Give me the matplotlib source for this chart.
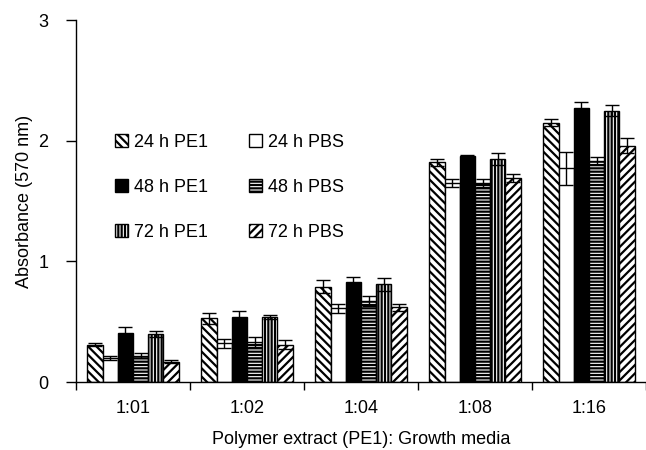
import numpy as np
import matplotlib as mpl
mpl.use('Agg')
import matplotlib.pyplot as plt

plt.rcParams['font.family'] = ['Liberation Sans', 'DejaVu Sans']
plt.rcParams['hatch.linewidth'] = 1.6

ratios = ['1:01', '1:02', '1:04', '1:08', '1:16']
series = ['24 h PE1', '24 h PBS', '48 h PE1', '48 h PBS', '72 h PE1', '72 h PBS']

# absorbance at 570 nm, one list per series, one value per ratio
pe1_24 = [0.31, 0.53, 0.79, 1.82, 2.15]
pbs_24 = [0.20, 0.32, 0.61, 1.65, 1.77]
pe1_48 = [0.41, 0.54, 0.83, 1.87, 2.27]
pbs_48 = [0.22, 0.33, 0.67, 1.65, 1.83]
pe1_72 = [0.40, 0.54, 0.81, 1.85, 2.25]
pbs_72 = [0.17, 0.31, 0.62, 1.69, 1.96]

err_pe1_24 = [0.015, 0.045, 0.055, 0.03, 0.03]
err_pbs_24 = [0.015, 0.04, 0.035, 0.03, 0.135]
err_pe1_48 = [0.045, 0.05, 0.04, 0.01, 0.055]
err_pbs_48 = [0.02, 0.04, 0.04, 0.03, 0.035]
err_pe1_72 = [0.025, 0.015, 0.055, 0.05, 0.045]
err_pbs_72 = [0.01, 0.04, 0.03, 0.035, 0.06]

values = [pe1_24, pbs_24, pe1_48, pbs_48, pe1_72, pbs_72]
errors = [err_pe1_24, err_pbs_24, err_pe1_48, err_pbs_48, err_pe1_72, err_pbs_72]
faces = ['white', 'white', 'black', 'white', 'white', 'white']
hatches = ['\\\\\\\\', None, None, '-----', '|||||', '////']
FS = 13

fig = plt.figure(figsize=(6.46, 4.5), dpi=100)
ax = fig.add_axes([0.1176, 0.151, 0.8824, 0.8044])

x = np.arange(len(ratios)) + 0.5
width = 0.8 / len(series)
handles = []
for i, (vals, errs) in enumerate(zip(values, errors)):
    pos = x - 0.4 + width * (i + 0.5)
    b = ax.bar(pos, vals, width, color=faces[i], edgecolor='black',
               hatch=hatches[i], linewidth=1.0, label=series[i], zorder=2)
    ax.errorbar(pos, vals, yerr=errs, fmt='none', ecolor='black',
                elinewidth=1.0, capsize=5, capthick=1.0, zorder=3)
    handles.append(b)

ax.set_xlim(0, 5)
ax.set_ylim(0, 3)
ax.set_yticks([0, 1, 2, 3])
ax.set_xticks(np.arange(0, 6))
ax.set_xticklabels([])
ax.set_xticks(x, minor=True)
ax.set_xticklabels(ratios, minor=True)
ax.tick_params(axis='x', which='major', direction='out', length=6, width=1)
ax.tick_params(axis='x', which='minor', length=0, pad=13, labelsize=FS)
ax.tick_params(axis='y', direction='out', length=7, width=1, pad=13, labelsize=FS)

for side in ['top', 'right']:
    ax.spines[side].set_visible(False)
for side in ['left', 'bottom']:
    ax.spines[side].set_linewidth(1.0)

ax.set_xlabel('Polymer extract (PE1): Growth media', fontsize=FS, labelpad=10)
ax.set_ylabel('Absorbance (570 nm)', fontsize=FS, labelpad=4)

# PE1 series down the first column, PBS down the second
order = [0, 2, 4, 1, 3, 5]
ax.legend([handles[k] for k in order], [series[k] for k in order], ncol=2,
          loc='upper left', bbox_to_anchor=(115 / 646, 1 - 134 / 450),
          bbox_transform=fig.transFigure, frameon=False, fontsize=FS,
          handlelength=0.7, handleheight=0.7, handletextpad=0.35,
          labelspacing=1.55, columnspacing=2.3, borderpad=0, borderaxespad=0)

fig.savefig('out.png', dpi=100)
